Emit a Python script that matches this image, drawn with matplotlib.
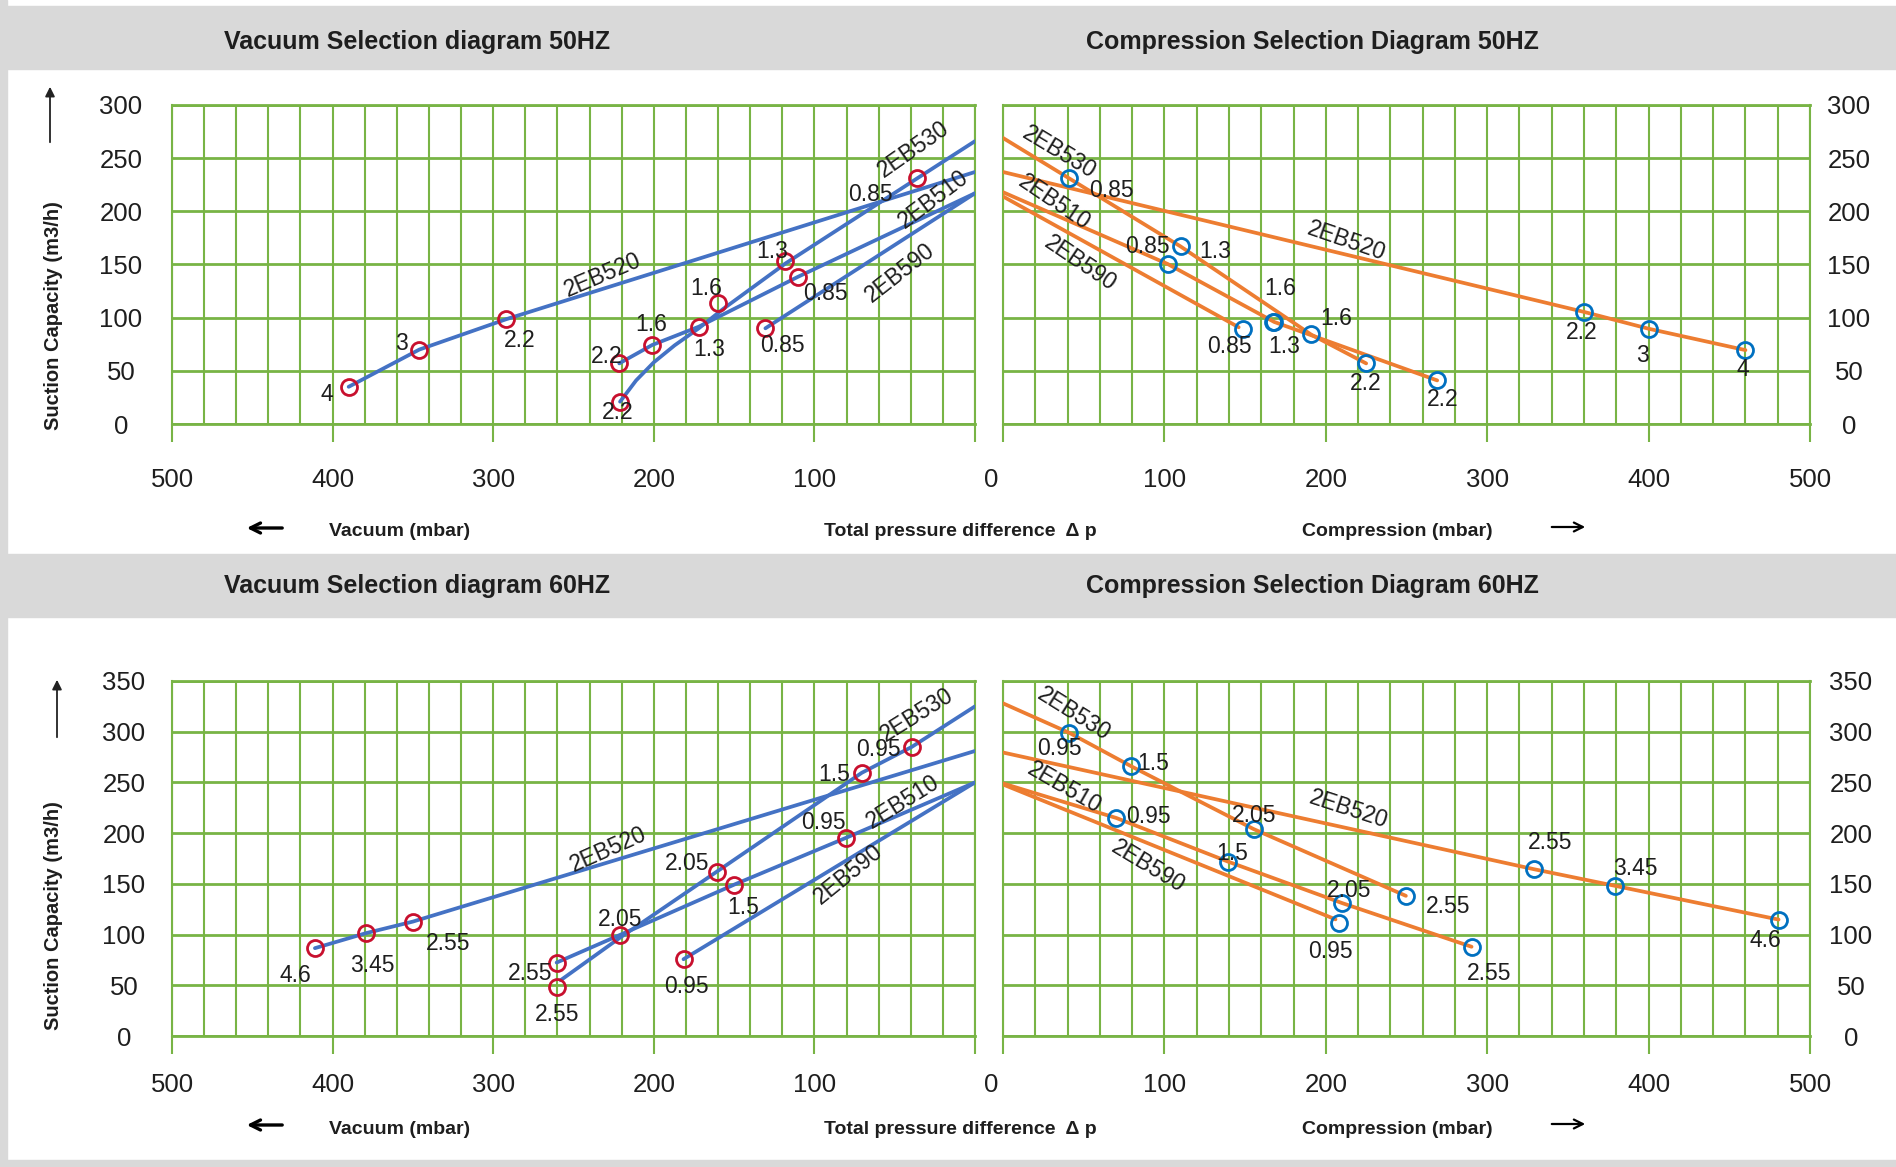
import matplotlib
matplotlib.use("Agg")
import matplotlib.pyplot as plt
from matplotlib.patches import Rectangle, FancyArrowPatch
import numpy as np

plt.rcParams['font.family'] = ['Liberation Sans', 'DejaVu Sans']

W, H = 1896, 1167

# ---------------------------------------------------
# Vacuum 50 Hz  (x = vacuum mbar, y = suction capacity m3/h)
# ---------------------------------------------------
v50_520_x = [390, 346, 292, 0]
v50_520_y = [35, 70, 98.5, 237]
v50_530_x = [0, 36, 118, 157, 172, 187, 200, 211, 221]
v50_530_y = [266, 231, 151, 108, 90, 74, 58, 41, 21]
v50_510_x = [221.5, 201, 172, 110, 0]
v50_510_y = [57, 74.3, 91.5, 138.6, 217]
v50_590_x = [130.5, 0]
v50_590_y = [90, 217]
v50_pt_x = [390, 346, 292, 36, 118, 160, 221, 221.5, 201, 172, 110, 130.5]
v50_pt_y = [35, 70, 98.5, 231, 153, 114, 21, 57, 74.3, 91.5, 138.6, 90]
v50_pt_lbl = ['4', '3', '2.2', '0.85', '1.3', '1.6', '2.2', '2.2', '1.6', '1.3', '0.85', '0.85']

# Compression 50 Hz
c50_530_x = [0, 41, 110, 191, 225]
c50_530_y = [269, 231, 167, 84, 57]
c50_520_x = [0, 360, 400, 460]
c50_520_y = [237, 105.4, 89.6, 69.5]
c50_510_x = [0, 102, 168, 269]
c50_510_y = [218, 150.5, 96, 41]
c50_590_x = [0, 146]
c50_590_y = [214, 91]
c50_pt_x = [41, 110, 102, 148.5, 167.5, 168, 191, 225, 269, 360, 400, 460]
c50_pt_y = [231, 167, 150.5, 89, 96, 96, 84.3, 57, 41, 105.4, 89.6, 69.5]
c50_pt_lbl = ['0.85', '1.3', '0.85', '0.85', '1.3', '1.6', '1.6', '2.2', '2.2', '2.2', '3', '4']

# Vacuum 60 Hz
v60_520_x = [411, 379.2, 350, 0]
v60_520_y = [86.6, 101.4, 112.8, 281]
v60_530_x = [0, 39.4, 70.5, 160.8, 221, 258]
v60_530_y = [325, 285, 259.5, 162, 97, 55]
v60_510_x = [260.5, 221, 150, 80.3, 0]
v60_510_y = [72.4, 99.7, 149.2, 195.4, 250]
v60_590_x = [181.5, 0]
v60_590_y = [75.7, 250]
v60_pt_x = [411, 379.2, 350, 39.4, 70.5, 160.8, 260.5, 80.3, 150, 221, 260.5, 181.5]
v60_pt_y = [86.6, 101.4, 112.8, 285, 259.5, 161.5, 48.7, 195.4, 149.2, 99.7, 72.4, 75.7]
v60_pt_lbl = ['4.6', '3.45', '2.55', '0.95', '1.5', '2.05', '2.55', '0.95', '1.5', '2.05', '2.55', '0.95']

# Compression 60 Hz
c60_530_x = [0, 41.2, 79.6, 155.3, 249.6]
c60_530_y = [328, 298.8, 265.8, 204, 138.2]
c60_520_x = [0, 328.8, 379.4, 480.5]
c60_520_y = [279.5, 164.5, 148, 114.8]
c60_510_x = [0, 70.3, 139.3, 210.2, 290.3]
c60_510_y = [249, 214.9, 172, 131, 88]
c60_590_x = [0, 206]
c60_590_y = [248, 115]
c60_pt_x = [41.2, 79.6, 70.3, 155.3, 139.3, 210.2, 208.1, 249.6, 290.3, 328.8, 379.4, 480.5]
c60_pt_y = [298.8, 265.8, 214.9, 204, 172, 131, 111.9, 138.2, 88, 164.5, 148, 114.8]
c60_pt_lbl = ['0.95', '1.5', '0.95', '2.05', '1.5', '2.05', '0.95', '2.55', '2.55', '2.55', '3.45', '4.6']

GREEN = '#78B445'
BLUE_LINE = '#4472C4'
ORANGE = '#ED7D31'
RED = '#C8102E'
BLUE_PT = '#0070C0'
GRAY = '#D9D9D9'
TXT = '#1E1E1E'


def fx(px):
    return px / W


def fy(py):
    return 1 - py / H


fig = plt.figure(figsize=(W / 100, H / 100), dpi=100)
fig.patch.set_facecolor('white')

# grey header bands
for y0, y1 in [(6, 69), (554, 617), (1160, 1167)]:
    fig.patches.append(Rectangle((0, fy(y1)), 1, (y1 - y0) / H, transform=fig.transFigure,
                                 color=GRAY, zorder=0))
fig.patches.append(Rectangle((0, 0), 7 / W, 1, transform=fig.transFigure, color=GRAY, zorder=0))


def setup(ax, ymax, vacuum, xpad, ypad):
    if vacuum:
        ax.set_xlim(500, 0)
    else:
        ax.set_xlim(0, 500)
    ax.set_ylim(0, ymax)
    ax.set_xticks(np.arange(0, 501, 100))
    ax.set_xticklabels(['', '100', '200', '300', '400', '500'])
    ax.set_xticks(np.arange(0, 501, 20), minor=True)
    ax.set_yticks(np.arange(0, ymax + 1, 50))
    ax.grid(True, which='both', axis='x', color=GREEN, lw=1.5)
    ax.grid(True, which='major', axis='y', color=GREEN, lw=2.0)
    ax.set_axisbelow(True)
    for s in ['left', 'right']:
        ax.spines[s].set_color(GREEN)
        ax.spines[s].set_linewidth(1.5)
    for s in ['top', 'bottom']:
        ax.spines[s].set_color(GREEN)
        ax.spines[s].set_linewidth(2.0)
    ax.tick_params(axis='x', which='major', length=13, width=1.5, color=GREEN,
                   direction='out', labelsize=18.5, labelcolor=TXT, pad=xpad)
    ax.tick_params(axis='x', which='minor', length=0)
    if vacuum:
        ax.tick_params(axis='y', length=0, labelsize=18.5, labelcolor=TXT, pad=ypad)
    else:
        ax.tick_params(axis='y', length=0, labelsize=18.5, labelcolor=TXT, pad=ypad,
                       labelleft=False, labelright=True)
    for l in ax.get_xticklabels():
        l.set_va('center')
    for l in ax.get_yticklabels():
        l.set_ha('center')


def curve(ax, xs, ys, color):
    ax.plot(xs, ys, color=color, lw=2.7, solid_capstyle='round', zorder=3)


def points(ax, xs, ys, lbls, offs, mcolor):
    ax.plot(xs, ys, ls='none', marker='o', ms=11.5, mfc='none', mec=mcolor, mew=2.0, zorder=4)
    for x, y, t, (dx, dy) in zip(xs, ys, lbls, offs):
        ax.annotate(t, (x, y), xytext=(dx * 0.72, -dy * 0.72), textcoords='offset points',
                    ha='center', va='center', fontsize=16.5, color=TXT, zorder=5)


def names(ax, items):
    for t, x, y, r in items:
        ax.text(x, y, t, rotation=r, rotation_mode='anchor', ha='center', va='center',
                fontsize=16.5, color=TXT, zorder=5)


# ---------------- top left : vacuum 50 Hz ----------------
ax1 = fig.add_axes([fx(172), fy(424), 803 / W, 319 / H])
setup(ax1, 300, True, 27.4, 36.7)
curve(ax1, v50_520_x, v50_520_y, BLUE_LINE)
curve(ax1, v50_530_x, v50_530_y, BLUE_LINE)
curve(ax1, v50_510_x, v50_510_y, BLUE_LINE)
curve(ax1, v50_590_x, v50_590_y, BLUE_LINE)
points(ax1, v50_pt_x, v50_pt_y, v50_pt_lbl,
       [(-22, 8), (-18, -6), (14, 21), (-47, 16), (-13, -10), (-12, -14), (-2, 11),
        (-13, -7), (-1, -20), (10, 23), (27, 17), (17, 17)], RED)
names(ax1, [('2EB520', 232, 140, 23), ('2EB530', 38, 258, 35),
            ('2EB510', 26, 211, 37), ('2EB590', 47, 142, 38)])

# ---------------- top right : compression 50 Hz ----------------
ax2 = fig.add_axes([fx(1003), fy(424), 807 / W, 319 / H])
setup(ax2, 300, False, 27.4, 28)
curve(ax2, c50_530_x, c50_530_y, ORANGE)
curve(ax2, c50_520_x, c50_520_y, ORANGE)
curve(ax2, c50_510_x, c50_510_y, ORANGE)
curve(ax2, c50_590_x, c50_590_y, ORANGE)
points(ax2, c50_pt_x, c50_pt_y, c50_pt_lbl,
       [(42, 12), (35, 5), (-20, -17), (-13, 17), (11, 25), (6, -33), (25, -16),
        (0, 20), (6, 19), (-2, 21), (-6, 27), (-3, 19)], BLUE_PT)
names(ax2, [('2EB530', 35, 255, -31), ('2EB510', 32, 208, -34),
            ('2EB590', 48, 151, -34), ('2EB520', 213, 172, -19)])

# ---------------- bottom left : vacuum 60 Hz ----------------
ax3 = fig.add_axes([fx(172), fy(1036), 803 / W, 355 / H])
setup(ax3, 350, True, 22.3, 34.6)
curve(ax3, v60_520_x, v60_520_y, BLUE_LINE)
curve(ax3, v60_530_x, v60_530_y, BLUE_LINE)
curve(ax3, v60_510_x, v60_510_y, BLUE_LINE)
curve(ax3, v60_590_x, v60_590_y, BLUE_LINE)
points(ax3, v60_pt_x, v60_pt_y, v60_pt_lbl,
       [(-20, 27), (6, 32), (35, 22), (-33, 3), (-28, 2), (-30, -9), (0, 28),
        (-23, -15), (9, 23), (0, -15), (-27, 11), (3, 27)], RED)
names(ax3, [('2EB520', 228, 184, 24), ('2EB530', 36, 317, 32),
            ('2EB510', 45, 231, 32), ('2EB590', 79, 159, 39)])

# ---------------- bottom right : compression 60 Hz ----------------
ax4 = fig.add_axes([fx(1003), fy(1036), 807 / W, 355 / H])
setup(ax4, 350, False, 22.3, 29.5)
curve(ax4, c60_530_x, c60_530_y, ORANGE)
curve(ax4, c60_520_x, c60_520_y, ORANGE)
curve(ax4, c60_510_x, c60_510_y, ORANGE)
curve(ax4, c60_590_x, c60_590_y, ORANGE)
points(ax4, c60_pt_x, c60_pt_y, c60_pt_lbl,
       [(-10, 16), (22, -3), (32, -2), (0, -14), (4, -8), (7, -13), (-8, 29),
        (42, 11), (18, 27), (16, -27), (20, -17), (-13, 21)], BLUE_PT)
names(ax4, [('2EB530', 44, 317, -32), ('2EB510', 38, 245, -30),
            ('2EB590', 90, 167, -31), ('2EB520', 214, 223, -18)])

# ---------------------------------------------------
# titles, shared labels, arrows
# ---------------------------------------------------
bold = dict(fontweight='bold', color=TXT, ha='center', va='center')
fig.text(fx(417), fy(42), 'Vacuum Selection diagram 50HZ', fontsize=18, **bold)
fig.text(fx(1312), fy(42), 'Compression Selection Diagram 50HZ', fontsize=18, **bold)
fig.text(fx(417), fy(586), 'Vacuum Selection diagram 60HZ', fontsize=18, **bold)
fig.text(fx(1312), fy(586), 'Compression Selection Diagram 60HZ', fontsize=18, **bold)

for row_y, tick_y in [(532, 480), (1129, 1085)]:
    fig.text(fx(991), fy(tick_y), '0', fontsize=18.5, color=TXT, ha='center', va='center')
    fig.text(fx(400), fy(row_y), 'Vacuum (mbar)', fontsize=14, **bold)
    fig.text(fx(960), fy(row_y), 'Total pressure difference  \u0394 p', fontsize=14, **bold)
    fig.text(fx(1397), fy(row_y), 'Compression (mbar)', fontsize=14, **bold)
    fig.patches.append(FancyArrowPatch((fx(285), fy(row_y - 4)), (fx(244), fy(row_y - 4)),
                                       transform=fig.transFigure, arrowstyle='->',
                                       mutation_scale=18, lw=2.4, color='black'))
    fig.patches.append(FancyArrowPatch((fx(1549), fy(row_y - 5)), (fx(1588), fy(row_y - 5)),
                                       transform=fig.transFigure, arrowstyle='->',
                                       mutation_scale=16, lw=1.6, color='black'))

for cy, a0, a1, ax_x in [(316, 145, 84, 50), (916, 740, 677, 57)]:
    fig.text(fx(54), fy(cy), 'Suction Capacity (m3/h)', rotation=90, fontsize=14.5, **bold)
    fig.patches.append(FancyArrowPatch((fx(ax_x), fy(a0)), (fx(ax_x), fy(a1)),
                                       transform=fig.transFigure, arrowstyle='-|>',
                                       mutation_scale=14, lw=1.3, color='#222222'))

fig.savefig('out.png', dpi=100)
